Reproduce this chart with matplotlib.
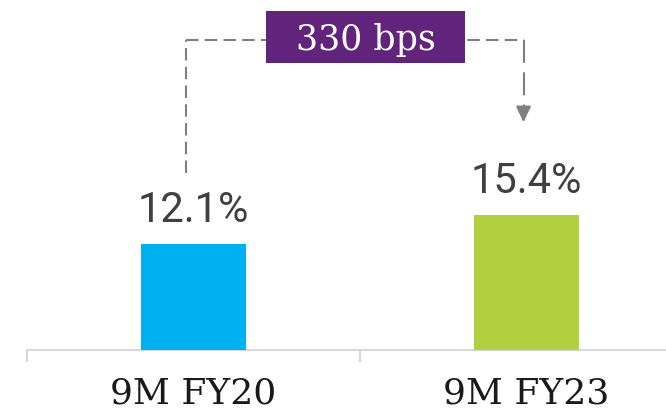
import matplotlib
matplotlib.use("Agg")
import matplotlib.pyplot as plt
from matplotlib.patches import Rectangle

categories = ["9M FY20", "9M FY23"]
values = [12.1, 15.4]
value_labels = ["12.1%", "15.4%"]
bar_colors = ["#00b0f0", "#b0d03f"]
delta_label = "330 bps"

fig = plt.figure(figsize=(6.66, 4.12), dpi=100)
ax = fig.add_axes([27/666, 62/412, 1.0, 350/412])
x = list(range(len(categories)))
bars = ax.bar(x, values, width=0.318, color=bar_colors, zorder=3)
ax.set_xlim(-0.5, 1.5)
ax.set_ylim(0, 39.8)

for s in ["top", "right", "left"]:
    ax.spines[s].set_visible(False)
ax.spines["bottom"].set_color("#d9d9d9")
ax.spines["bottom"].set_linewidth(1.5)
ax.set_yticks([])
ax.set_xticks(x)
ax.set_xticklabels(categories, fontsize=26, family="DejaVu Serif", color="#1a1a1a")
ax.tick_params(axis="x", which="major", length=0, pad=19)
ax.set_xticks([-0.5, 0.5, 1.5], minor=True)
ax.tick_params(axis="x", which="minor", length=8.6, width=1.5, color="#d9d9d9")

for xi, v, lab in zip(x, values, value_labels):
    ax.annotate(lab, (xi, v), xytext=(0, 9), textcoords="offset points",
                ha="center", va="bottom", fontsize=30, family="Roboto",
                color="#404040")

# bracket annotation
top_y = 35.2
left_x = x[0] - 0.022
right_x = x[1] - 0.009
dash = dict(color="#7f7f7f", lw=1.5, linestyle=(0, (6, 3)))
ax.plot([left_x, left_x], [values[0] + 8.0, top_y], **dash)
ax.plot([left_x, right_x], [top_y, top_y], **dash)
ax.plot([right_x, right_x], [top_y, values[1] + 12.2], color="#7f7f7f", lw=1.5,
        linestyle=(0, (11, 4.5)))
ax.annotate("", xy=(right_x, values[1] + 10.5), xytext=(right_x, values[1] + 12.3),
            arrowprops=dict(arrowstyle="-|>,head_length=0.95,head_width=0.45",
                            color="#7f7f7f", lw=1.5, shrinkA=0, shrinkB=0))
box_cx, box_cy, box_w, box_h = 0.5165, 35.6, 0.598, 6.0
ax.add_patch(Rectangle((box_cx - box_w / 2, box_cy - box_h / 2), box_w, box_h,
                       fc="#62237c", ec="none", zorder=4))
ax.text(box_cx, box_cy, delta_label, ha="center", va="center_baseline",
        fontsize=25, family="DejaVu Serif", color="white", zorder=5)

fig.savefig("out.png", dpi=100)
